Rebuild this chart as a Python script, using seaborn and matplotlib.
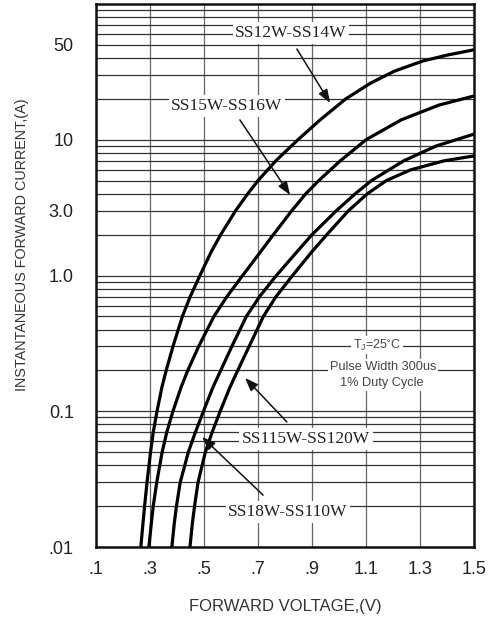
import numpy as np
import pandas as pd
import matplotlib
matplotlib.use("Agg")
import matplotlib.pyplot as plt
import seaborn as sns
from matplotlib.ticker import LogLocator, NullFormatter, FixedLocator

# ---- data ----
series_names = ["SS12W-SS14W", "SS15W-SS16W", "SS18W-SS110W", "SS115W-SS120W"]

c1_v = [0.266, 0.274, 0.280, 0.289, 0.302, 0.312, 0.326, 0.344, 0.360, 0.385, 0.420, 0.449,
        0.485, 0.527, 0.562, 0.617, 0.662, 0.700, 0.766, 0.848, 0.930, 1.025, 1.115, 1.205,
        1.310, 1.400, 1.500]
c1_i = [0.01, 0.015, 0.02, 0.03, 0.05, 0.07, 0.10, 0.15, 0.20, 0.30, 0.50, 0.70,
        1.0, 1.5, 2.0, 3.0, 4.0, 5.0, 7.0, 10.0, 14.0, 20.0, 26.0, 32.0,
        38.0, 42.0, 46.0]

c2_v = [0.296, 0.305, 0.312, 0.325, 0.345, 0.362, 0.385, 0.415, 0.440, 0.480, 0.537, 0.585,
        0.643, 0.710, 0.757, 0.825, 0.877, 0.925, 1.005, 1.100, 1.230, 1.370, 1.500]
c2_i = [0.01, 0.015, 0.02, 0.03, 0.05, 0.07, 0.10, 0.15, 0.20, 0.30, 0.50, 0.70,
        1.0, 1.5, 2.0, 3.0, 4.0, 5.0, 7.0, 10.0, 14.0, 18.0, 21.0]

c3_v = [0.381, 0.390, 0.398, 0.412, 0.442, 0.468, 0.498, 0.533, 0.562, 0.603, 0.657, 0.706,
        0.768, 0.845, 0.900, 0.990, 1.060, 1.120, 1.240, 1.360, 1.500]
c3_i = [0.01, 0.015, 0.02, 0.03, 0.05, 0.07, 0.10, 0.15, 0.20, 0.30, 0.50, 0.70,
        1.0, 1.5, 2.0, 3.0, 4.0, 5.0, 7.0, 9.0, 11.0]

c4_v = [0.448, 0.457, 0.465, 0.478, 0.505, 0.530, 0.560, 0.596, 0.625, 0.667, 0.720, 0.767,
        0.828, 0.900, 0.955, 1.035, 1.105, 1.175, 1.265, 1.390, 1.500]
c4_i = [0.01, 0.015, 0.02, 0.03, 0.05, 0.07, 0.10, 0.15, 0.20, 0.30, 0.50, 0.70,
        1.0, 1.5, 2.0, 3.0, 4.0, 5.0, 6.0, 7.0, 7.6]

x_ticks = [0.1, 0.3, 0.5, 0.7, 0.9, 1.1, 1.3, 1.5]
x_tick_labels = [".1", ".3", ".5", ".7", ".9", "1.1", "1.3", "1.5"]
y_ticks = [0.01, 0.1, 1.0, 3.0, 10, 50]
y_tick_labels = [".01", "0.1", "1.0", "3.0", "10", "50"]

# ---- build a long table ----
frames = []
for name, v, i in zip(series_names, [c1_v, c2_v, c3_v, c4_v], [c1_i, c2_i, c3_i, c4_i]):
    frames.append(pd.DataFrame({"V": v, "I": i, "series": name}))
df = pd.concat(frames, ignore_index=True)

sns.set_style("white")
plt.rcParams["font.family"] = ["Liberation Sans", "DejaVu Sans"]
plt.rcParams["mathtext.default"] = "regular"

fig = plt.figure(figsize=(4.89, 6.18), dpi=100)
ax = fig.add_axes([96 / 489, 1 - 547 / 618, 378 / 489, 543 / 618])

sns.lineplot(data=df, x="V", y="I", hue="series", palette=["black"] * 4,
             legend=False, linewidth=2.3, ax=ax, zorder=3)
for ln in ax.get_lines():
    ln.set_solid_joinstyle("round")
    ln.set_solid_capstyle("round")

ax.set_yscale("log")
ax.set_xlim(0.1, 1.5)
ax.set_ylim(0.01, 100)

ax.set_xticks(x_ticks)
ax.set_xticklabels(x_tick_labels)
ax.yaxis.set_major_locator(FixedLocator(y_ticks))
ax.set_yticklabels(y_tick_labels)
ax.yaxis.set_minor_locator(LogLocator(base=10, subs=np.arange(2, 10)))
ax.yaxis.set_minor_formatter(NullFormatter())

ax.tick_params(axis="both", which="both", length=0)
ax.tick_params(axis="x", pad=10, labelsize=13, labelcolor="#222222")
ax.tick_params(axis="y", pad=16, labelsize=13, labelcolor="#222222")

ax.grid(True, axis="x", which="major", color="#666666", linewidth=0.9)
ax.grid(True, axis="y", which="both", color="#333333", linewidth=0.9)
ax.set_axisbelow(True)

for sp in ax.spines.values():
    sp.set_visible(True)
    sp.set_color("#111111")
    sp.set_linewidth(1.8)

ax.set_xlabel("")
ax.set_ylabel("")
fig.text(285 / 489, 1 - 606 / 618, "FORWARD VOLTAGE,(V)", ha="center", va="center",
         fontsize=12, color="#333333")
fig.text(22 / 489, 1 - 245 / 618, "INSTANTANEOUS FORWARD CURRENT,(A)", ha="center",
         va="center", rotation=90, fontsize=10.4, color="#333333")

serif = ["Liberation Serif", "DejaVu Serif"]
box = dict(boxstyle="square,pad=0.15", fc="white", ec="none")
arrow = dict(arrowstyle="-|>,head_length=0.8,head_width=0.3", color="#111111",
             lw=1.1, shrinkA=0, shrinkB=0)

# curve labels
ax.text(0.822, 61.1, "SS12W-SS14W", ha="center", va="center", fontsize=12.5,
        family=serif, color="#222222", bbox=box, zorder=4)
ax.annotate("", xy=(0.967, 18.7), xytext=(0.844, 46.6), arrowprops=arrow, zorder=5)

ax.text(0.585, 17.7, "SS15W-SS16W", ha="center", va="center", fontsize=12.5,
        family=serif, color="#222222", bbox=box, zorder=4)
ax.annotate("", xy=(0.819, 3.92), xytext=(0.633, 14.0), arrowprops=arrow, zorder=5)

ax.text(0.878, 0.0625, "SS115W-SS120W", ha="center", va="center", fontsize=12.5,
        family=serif, color="#222222", bbox=box, zorder=4)
ax.annotate("", xy=(0.652, 0.176), xytext=(0.807, 0.0834), arrowprops=arrow, zorder=5)

ax.text(0.811, 0.0181, "SS18W-SS110W", ha="center", va="center", fontsize=12.5,
        family=serif, color="#222222", bbox=box, zorder=4)
ax.annotate("", xy=(0.493, 0.0646), xytext=(0.719, 0.0241), arrowprops=arrow, zorder=5)

# conditions
ax.text(1.141, 0.3077, r"T$_J$=25$^{\circ}$C", ha="center", va="center", fontsize=9,
        color="#444444", bbox=box, zorder=4)
ax.text(1.163, 0.212, "Pulse Width 300us", ha="center", va="center", fontsize=9.2,
        color="#444444", bbox=box, zorder=4)
ax.text(1.159, 0.1614, "1% Duty Cycle", ha="center", va="center", fontsize=9.2,
        color="#444444", bbox=box, zorder=4)

fig.savefig("out.png", dpi=100, facecolor="white")
